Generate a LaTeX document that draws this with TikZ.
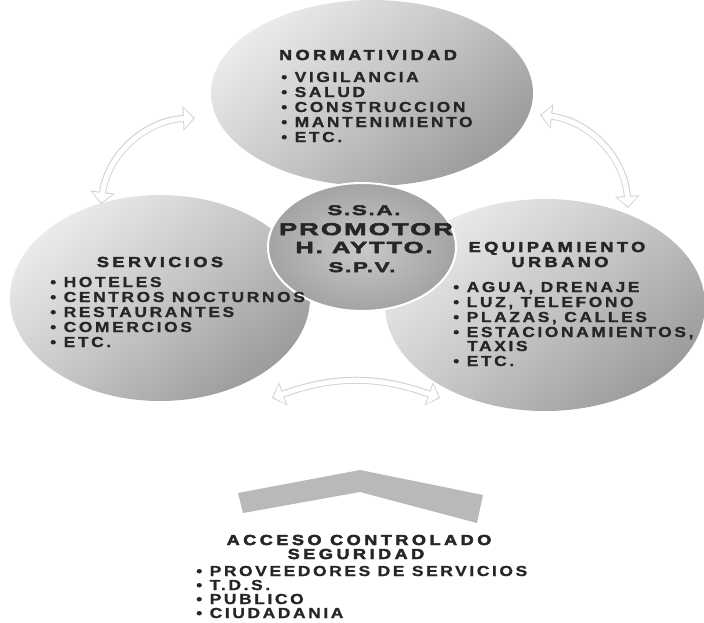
\documentclass[tikz,border=0pt]{standalone}
\usepackage{fontspec}
\setmainfont{Liberation Sans}
\newfontfamily\itemfont{Liberation Sans Bold}[FakeStretch=1.2,LetterSpace=18,FakeBold=1.2]
\newfontfamily\headfont{Liberation Sans Bold}[FakeStretch=1.25,LetterSpace=24,FakeBold=3]
\newfontfamily\hubfont{Liberation Sans Bold}[FakeStretch=1.6,LetterSpace=12,FakeBold=3.5]
\usetikzlibrary{arrows.meta,shapes.geometric,positioning}

\tikzset{
  blob/.style={ellipse,inner sep=0pt,top color=gray!16,bottom color=gray!78,middle color=gray!45,shading angle=40},
  hub/.style={ellipse,inner sep=0pt,draw=white,line width=2pt,inner color=gray!42,outer color=gray!72},
  heading/.style={anchor=base,inner sep=0pt,text=black!85,font=\headfont\fontsize{14.5}{15}\selectfont},
  item/.style={anchor=base west,inner sep=0pt,text=black!85,font=\itemfont\fontsize{14.5}{15}\selectfont},
  hubtext/.style={anchor=base,inner sep=0pt,text=black!85},
  rim/.style={line width=7pt,gray!35,{Triangle[width=24pt,length=12pt]}-{Triangle[width=24pt,length=12pt]}},
  core/.style={line width=5pt,white,shorten <=1.5pt,shorten >=1.5pt,{Triangle[width=20pt,length=9.5pt]}-{Triangle[width=20pt,length=9.5pt]}}
}

\begin{document}
\begin{tikzpicture}[line cap=round,line join=round,x=1pt,y=1pt]
\fill[white] (0,0) rectangle (704,-622);
\useasboundingbox (0,0) rectangle (704,-622);
% the three fields and the hub
\node[blob,minimum width=322pt,minimum height=186pt] (norma) at (372,-93) {};
\node[blob,minimum width=300pt,minimum height=206pt] (servi) at (160,-298) {};
\node[blob,minimum width=320pt,minimum height=212pt] (equipa) at (545,-305) {};
\node[hub,minimum width=188pt,minimum height=128pt] (ssa) at (362,-247) {};
% two-way arrows between the fields
\coordinate (servup) at (101,-204);
\coordinate (normleft) at (195,-118);
\coordinate (normright) at (540,-115);
\coordinate (equipup) at (628,-208);
\coordinate (servbot) at (272,-398);
\coordinate (equipbot) at (440,-398);
\foreach \a/\b/\amt in {servup/normleft/40,equipup/normright/-40,servbot/equipbot/20}
{
\draw[rim] (\a) to[bend left=\amt] (\b);
\draw[core] (\a) to[bend left=\amt] (\b);
}
% normatividad
\node[heading] (normah) at (368,-60) {NORMATIVIDAD};
\foreach \t [count=\i] in {VIGILANCIA,SALUD,CONSTRUCCION,MANTENIMIENTO,ETC.}
\node[item] (norma\i) at (281,-67-15*\i) {• \t};
% servicios
\node[heading] (servih) at (160,-267) {SERVICIOS};
\foreach \t [count=\i] in {HOTELES,CENTROS NOCTURNOS,RESTAURANTES,COMERCIOS,ETC.}
\node[item] (servi\i) at (50,-272-15*\i) {• \t};
% equipamiento urbano
\node[heading] (equipah) at (557,-252) {EQUIPAMIENTO};
\node[heading] (urbanoh) at (560,-267) {URBANO};
\foreach \t [count=\i] in {{AGUA, DRENAJE},{LUZ, TELEFONO},{PLAZAS, CALLES},{ESTACIONAMIENTOS,}}
\node[item] (equipa\i) at (453,-277-15*\i) {• \t};
\node[item] (taxis) at (467,-351) {TAXIS};
\node[item] (equipa5) at (453,-366) {• ETC.};
% hub text
\node[hubtext,font=\hubfont\fontsize{14}{15}\selectfont] (ssa1) at (364,-215) {S.S.A.};
\node[hubtext,font=\hubfont\fontsize{17}{18}\selectfont] (ssa2) at (366,-235) {PROMOTOR};
\node[hubtext,font=\hubfont\fontsize{16}{17}\selectfont] (ssa3) at (364,-253) {H. AYTTO.};
\node[hubtext,font=\hubfont\fontsize{14}{15}\selectfont] (ssa4) at (362,-272) {S.P.V.};
% access chevron
\fill[gray!55] (238,-493) -- (360,-470) -- (483,-495) -- (477,-523) -- (360,-492) -- (243,-513) -- cycle;
\node[heading] (accesoh) at (359,-545) {ACCESO CONTROLADO};
\node[heading] (segurh) at (356,-559) {SEGURIDAD};
\foreach \t [count=\i] in {PROVEEDORES DE SERVICIOS,T.D.S.,PUBLICO,CIUDADANIA}
\node[item] (acceso\i) at (196,-562-14*\i) {• \t};
\end{tikzpicture}
\end{document}
